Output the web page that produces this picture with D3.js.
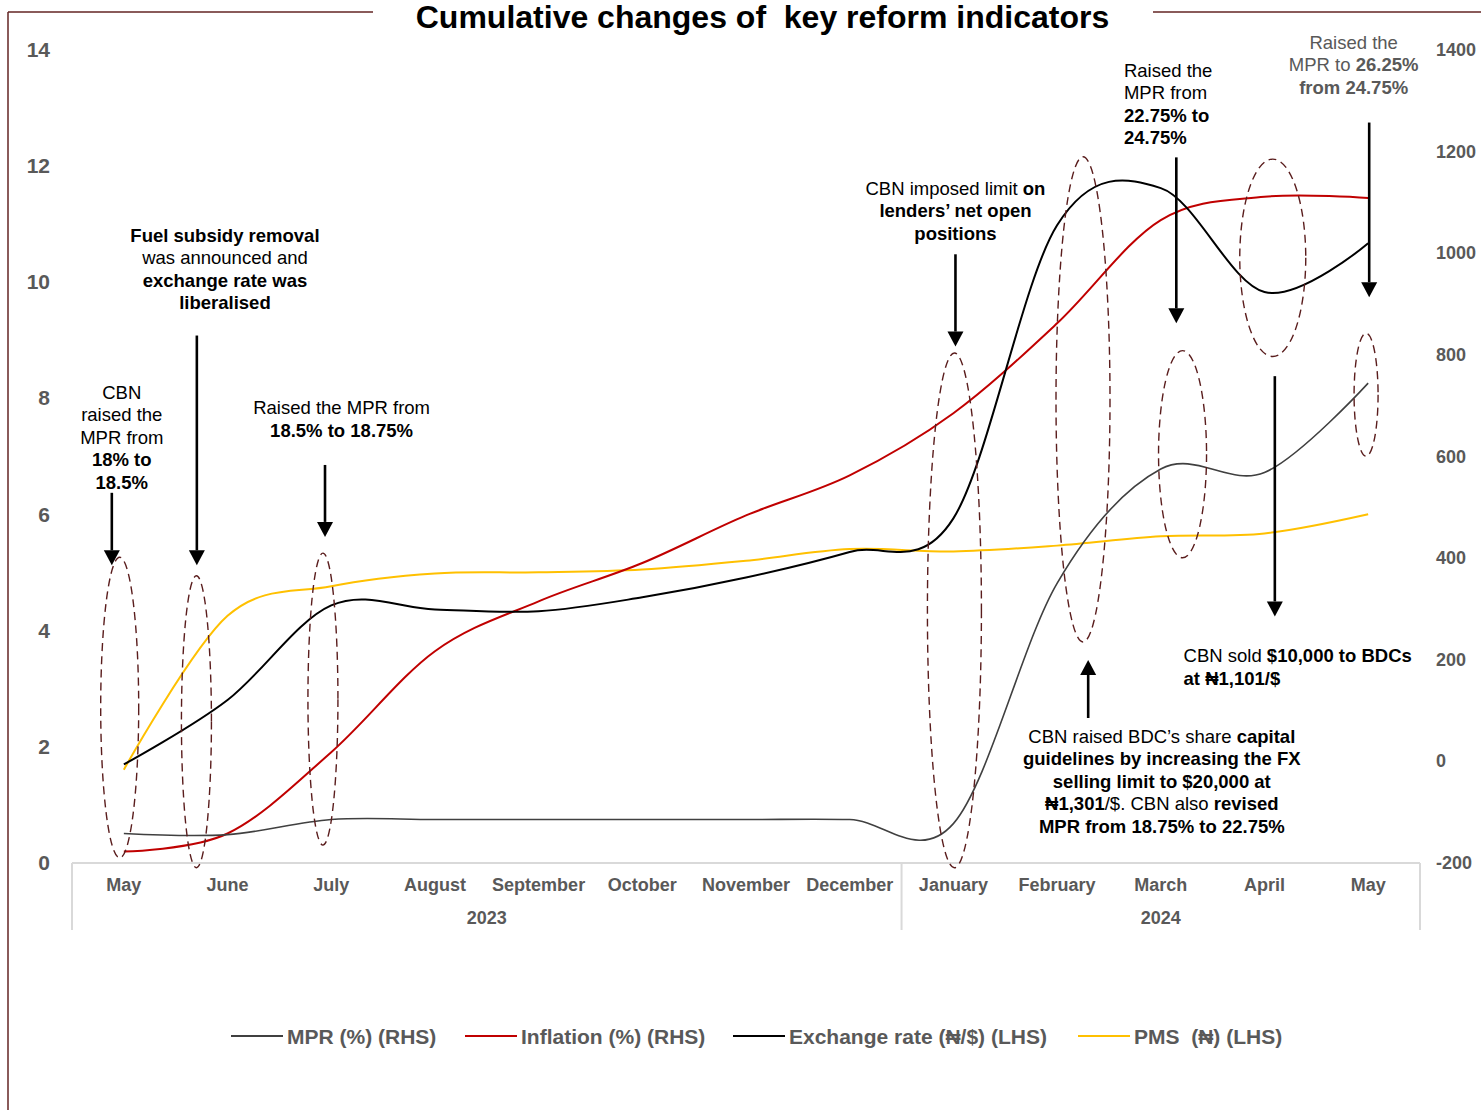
<!DOCTYPE html>
<html>
<head>
<meta charset="utf-8">
<script src="https://cdn.jsdelivr.net/npm/d3@7"></script>
<style>
  html, body { margin: 0; padding: 0; background: #fff; }
  svg { display: block; font-family: "Liberation Sans", Arial, sans-serif; }
  text { white-space: pre; }
</style>
</head>
<body>
<svg id="chart" width="1481" height="1110"></svg>
<script>
// ---------------- data ----------------
const categories = ["May","June","July","August","September","October","November","December","January","February","March","April","May"];
const years = [{label: "2023", first: 0, last: 7}, {label: "2024", first: 8, last: 12}];
const leftTicks = [0, 2, 4, 6, 8, 10, 12, 14];
const rightTicks = [-200, 0, 200, 400, 600, 800, 1000, 1200, 1400];

// cumulative changes
const mpr       = [0.50, 0.48, 0.74, 0.74, 0.74, 0.74, 0.74, 0.74, 0.67, 4.81, 6.78, 6.72, 8.26];
const inflation = [0.19, 0.50, 1.90, 3.64, 4.50, 5.16, 5.98, 6.67, 7.74, 9.29, 11.07, 11.47, 11.45];
const exchange  = [1.69, 2.80, 4.43, 4.36, 4.33, 4.57, 4.91, 5.35, 5.93, 10.98, 11.62, 9.83, 10.67];
const pms       = [1.60, 4.25, 4.76, 4.98, 5.00, 5.05, 5.20, 5.40, 5.36, 5.46, 5.62, 5.67, 6.00];

const seriesNames = ["MPR (%) (RHS)", "Inflation (%) (RHS)", "Exchange rate (\u20A6/$) (LHS)", "PMS  (\u20A6) (LHS)"];
const seriesValues = [mpr, inflation, exchange, pms];

// annotation shapes, in (category index, value) units
const ellipses = [
  {f: -0.04, top: 5.26, bottom: 0.08},
  {f: 0.70,  top: 4.94, bottom: -0.09},
  {f: 1.92,  top: 5.33, bottom: 0.30},
  {f: 8.01,  top: 8.78, bottom: -0.09},
  {f: 9.25,  top: 12.16, bottom: 3.80},
  {f: 10.21, top: 8.82, bottom: 5.25},
  {f: 11.08, top: 12.12, bottom: 8.72},
  {f: 11.98, top: 9.12, bottom: 7.00}
];
const ellipseHalfWidths = [19, 15, 15, 27, 27, 24, 33, 12];

const arrows = [
  {f: -0.116, from: 6.37, to: 5.12},
  {f: 0.704,  from: 9.08, to: 5.12},
  {f: 1.94,   from: 6.85, to: 5.61},
  {f: 8.02,   from: 10.48, to: 8.89},
  {f: 10.15,  from: 12.15, to: 9.29},
  {f: 12.01,  from: 12.75, to: 9.74},
  {f: 11.10,  from: 8.38, to: 4.24},
  {f: 9.30,   from: 2.49, to: 3.49}
];

const notes = [
  {f: -0.02, v: 7.99, anchor: "middle", gray: false, lines: [
    [["CBN", 0]], [["raised the", 0]], [["MPR from", 0]], [["18% to", 1]], [["18.5%", 1]]]},
  {f: 0.975, v: 10.70, anchor: "middle", gray: false, lines: [
    [["Fuel subsidy removal", 1]], [["was announced and", 0]], [["exchange rate was", 1]], [["liberalised", 1]]]},
  {f: 2.10, v: 7.72, anchor: "middle", gray: false, lines: [
    [["Raised the MPR from", 0]], [["18.5% to 18.75%", 1]]]},
  {f: 8.02, v: 11.51, anchor: "middle", gray: false, lines: [
    [["CBN imposed limit ", 0], ["on", 1]], [["lenders\u2019 net open", 1]], [["positions", 1]]]},
  {f: 9.645, v: 13.54, anchor: "start", gray: false, lines: [
    [["Raised the", 0]], [["MPR from", 0]], [["22.75% to", 1]], [["24.75%", 1]]]},
  {f: 11.86, v: 14.02, anchor: "middle", gray: true, lines: [
    [["Raised the", 0]], [["MPR to ", 0], ["26.25%", 1]], [["from 24.75%", 1]]]},
  {f: 10.22, v: 3.45, anchor: "start", gray: false, lines: [
    [["CBN sold ", 0], ["$10,000 to BDCs", 1]], [["at \u20A61,101/$", 1]]]},
  {f: 10.01, v: 2.06, anchor: "middle", gray: false, lines: [
    [["CBN raised BDC\u2019s share ", 0], ["capital", 1]],
    [["guidelines by increasing the FX", 1]],
    [["selling limit to $20,000 at", 1]],
    [["\u20A61,301", 1], ["/$. CBN also ", 0], ["revised", 1]],
    [["MPR from 18.75% to 22.75%", 1]]]}
];

// ---------------- layout ----------------
const svg = d3.select("#chart");
const colors = ["#404040", "#c00000", "#000000", "#ffc000"];
const widths = [1.6, 2, 2, 2];
const gray = "#595959";
const frame = "#632523";

const x = d3.scaleBand().domain(d3.range(categories.length)).range([72, 1420]).padding(0);
const step = x.step();
const xc = i => x(i) + step / 2;
const xf = f => x(0) + step / 2 + f * step;
const yL = d3.scaleLinear().domain([0, 14]).range([862.5, 50]);
const yR = d3.scaleLinear().domain([-200, 1400]).range([862.5, 50]);

// frame with title gap
svg.append("line").attr("x1", 8).attr("x2", 373).attr("y1", 12).attr("y2", 12).attr("stroke", frame).attr("stroke-width", 1.5);
svg.append("line").attr("x1", 1153).attr("x2", 1481).attr("y1", 12).attr("y2", 12).attr("stroke", frame).attr("stroke-width", 1.5);
svg.append("line").attr("x1", 8).attr("x2", 8).attr("y1", 12).attr("y2", 1110).attr("stroke", frame).attr("stroke-width", 1.5);

// title
svg.append("text").attr("x", 762.5).attr("y", 28).attr("text-anchor", "middle")
  .attr("font-size", 32).attr("font-weight", "bold").attr("fill", "#000")
  .text("Cumulative changes of  key reform indicators");

// y axes
const axL = svg.append("g").attr("transform", "translate(50,0)")
  .call(d3.axisLeft(yL).tickValues(leftTicks).tickSize(0).tickPadding(0).tickFormat(d => String(d)));
axL.select(".domain").remove();
axL.selectAll("text").attr("font-size", 21).attr("font-weight", "bold").attr("fill", gray)
  .attr("font-family", "Liberation Sans, Arial, sans-serif");

const axR = svg.append("g").attr("transform", "translate(1436,0)")
  .call(d3.axisRight(yR).tickValues(rightTicks).tickSize(0).tickPadding(0).tickFormat(d => String(d)));
axR.select(".domain").remove();
axR.selectAll("text").attr("font-size", 18).attr("font-weight", "bold").attr("fill", gray)
  .attr("font-family", "Liberation Sans, Arial, sans-serif");

// x axis
const axisY = 863;
const axX = svg.append("g").attr("transform", `translate(0,${axisY})`)
  .call(d3.axisBottom(x).tickSize(0).tickPadding(0).tickFormat(i => categories[i]));
axX.select(".domain").remove();
axX.selectAll("text").attr("font-size", 18).attr("font-weight", "bold").attr("fill", gray)
  .attr("font-family", "Liberation Sans, Arial, sans-serif").attr("dy", null).attr("y", 28);

svg.append("line").attr("x1", 72).attr("x2", 1420).attr("y1", axisY).attr("y2", axisY)
  .attr("stroke", "#d9d9d9").attr("stroke-width", 2);
const sepX = [x(years[0].first), x(years[1].first), x(years[1].last) + step];
svg.selectAll(".sep").data(sepX).enter().append("line")
  .attr("x1", d => d).attr("x2", d => d).attr("y1", axisY).attr("y2", 930)
  .attr("stroke", "#d9d9d9").attr("stroke-width", 2);
svg.selectAll(".yr").data(years).enter().append("text")
  .attr("x", d => (x(d.first) + x(d.last) + step) / 2).attr("y", 924)
  .attr("text-anchor", "middle").attr("font-size", 18).attr("font-weight", "bold").attr("fill", gray)
  .text(d => d.label);

// series lines
const line = d3.line().x((d, i) => xc(i)).y(d => yL(d)).curve(d3.curveCardinal.tension(0));
const drawOrder = [3, 1, 2, 0];
drawOrder.forEach(k => {
  svg.append("path").datum(seriesValues[k]).attr("d", line)
    .attr("fill", "none").attr("stroke", colors[k]).attr("stroke-width", widths[k])
    .attr("stroke-linejoin", "round");
});

// dashed ellipses
svg.selectAll(".ell").data(ellipses).enter().append("ellipse")
  .attr("cx", d => xf(d.f))
  .attr("cy", d => (yL(d.top) + yL(d.bottom)) / 2)
  .attr("rx", (d, i) => ellipseHalfWidths[i])
  .attr("ry", d => (yL(d.bottom) - yL(d.top)) / 2)
  .attr("fill", "none").attr("stroke", "#5a1d1d").attr("stroke-width", 1.4)
  .attr("stroke-dasharray", "8,5");

// arrows
const headLen = 15, headHalf = 8;
arrows.forEach(a => {
  const ax = xf(a.f), y1 = yL(a.from), y2 = yL(a.to);
  const dir = y2 > y1 ? 1 : -1;
  svg.append("line").attr("x1", ax).attr("x2", ax).attr("y1", y1).attr("y2", y2 - dir * headLen)
    .attr("stroke", "#000").attr("stroke-width", 2.6);
  svg.append("path")
    .attr("d", `M${ax},${y2} L${ax - headHalf},${y2 - dir * headLen} L${ax + headHalf},${y2 - dir * headLen} Z`)
    .attr("fill", "#000");
});

// annotation text
const lh = 22.5;
notes.forEach(n => {
  const t = svg.append("text").attr("text-anchor", n.anchor).attr("font-size", 18.5)
    .attr("fill", n.gray ? gray : "#000");
  n.lines.forEach((ln, li) => {
    ln.forEach((seg, si) => {
      const ts = t.append("tspan").text(seg[0]).attr("font-weight", seg[1] ? "bold" : "normal");
      if (si === 0) ts.attr("x", xf(n.f)).attr("y", yL(n.v) + li * lh);
    });
  });
});

// legend
const legX = [231, 465, 733, 1078];
const legY = 1036;
seriesNames.forEach((name, k) => {
  svg.append("line").attr("x1", legX[k]).attr("x2", legX[k] + 52).attr("y1", legY).attr("y2", legY)
    .attr("stroke", colors[k]).attr("stroke-width", k === 0 ? 2 : 2.2);
  svg.append("text").attr("x", legX[k] + 56).attr("y", legY + 7.5)
    .attr("font-size", 21).attr("font-weight", "bold").attr("fill", gray).text(name);
});
</script>
</body>
</html>
